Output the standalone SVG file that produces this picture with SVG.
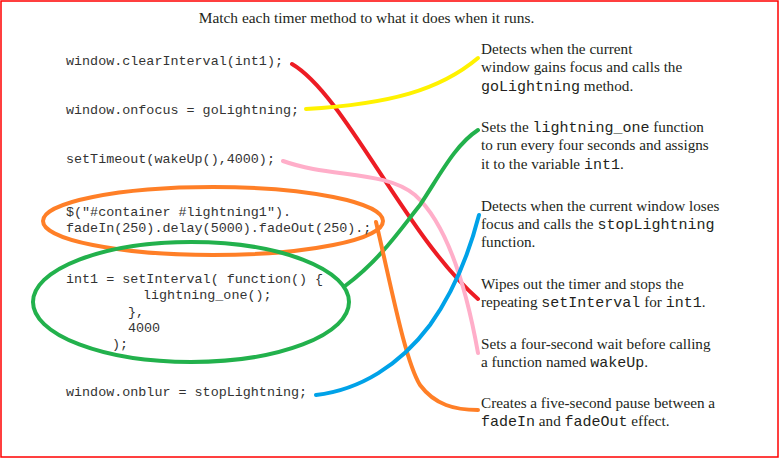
<svg xmlns="http://www.w3.org/2000/svg" width="782" height="463" viewBox="0 0 782 463">
<style>
.code{font-family:"Liberation Mono","Courier New",monospace;font-size:13.4px;fill:#333}
.desc{font-family:"Liberation Serif","Times New Roman",serif;font-size:15.2px;fill:#231f20}
.m{font-family:"Liberation Mono","Courier New",monospace;font-size:15px}
.title{font-family:"Liberation Serif","Times New Roman",serif;font-size:15.4px;fill:#231f20}
.ln{fill:none;stroke-width:4;stroke-linecap:round}
</style>
<rect x="1" y="1" width="777" height="456" fill="#fff" stroke="#f00" stroke-width="1.5"/>
<text class="title" x="366.5" y="23" text-anchor="middle">Match each timer method to what it does when it runs.</text>
<g id="code-clearInterval"><text class="code" x="66" y="65">window.clearInterval(int1);</text></g>
<g id="code-onfocus"><text class="code" x="66" y="114">window.onfocus = goLightning;</text></g>
<g id="code-setTimeout"><text class="code" x="66" y="163">setTimeout(wakeUp(),4000);</text></g>
<g id="code-delay">
<ellipse cx="213" cy="221" rx="170" ry="34" fill="none" stroke="#ff7f27" stroke-width="4"/>
<text class="code" x="66" y="216">$("#container #lightning1").</text>
<text class="code" x="66" y="232">fadeIn(250).delay(5000).fadeOut(250).;</text>
</g>
<g id="code-setInterval">
<ellipse cx="191" cy="302" rx="158" ry="60" fill="none" stroke="#22b14c" stroke-width="4"/>
<text class="code" x="66" y="283">int1 = setInterval( function() {</text>
<text class="code" x="143" y="299">lightning_one();</text>
<text class="code" x="128" y="316">},</text>
<text class="code" x="128" y="332">4000</text>
<text class="code" x="112" y="348">);</text>
</g>
<g id="code-onblur"><text class="code" x="66" y="396">window.onblur = stopLightning;</text></g>
<g id="desc-focus"><text class="desc" x="481" y="54">Detects when the current</text><text class="desc" x="481" y="72">window gains focus and calls the</text><text class="desc" x="481" y="91"><tspan class="m">goLightning</tspan> method.</text></g>
<g id="desc-interval"><text class="desc" x="481" y="132">Sets the <tspan class="m">lightning_one</tspan> function</text><text class="desc" x="481" y="150">to run every four seconds and assigns</text><text class="desc" x="481" y="169">it to the variable <tspan class="m">int1</tspan>.</text></g>
<g id="desc-blur"><text class="desc" x="481" y="211">Detects when the current window loses</text><text class="desc" x="481" y="229">focus and calls the <tspan class="m">stopLightning</tspan></text><text class="desc" x="481" y="247">function.</text></g>
<g id="desc-clear"><text class="desc" x="481" y="289">Wipes out the timer and stops the</text><text class="desc" x="481" y="307">repeating <tspan class="m">setInterval</tspan> for <tspan class="m">int1</tspan>.</text></g>
<g id="desc-timeout"><text class="desc" x="481" y="349">Sets a four-second wait before calling</text><text class="desc" x="481" y="367">a function named <tspan class="m">wakeUp</tspan>.</text></g>
<g id="desc-delay"><text class="desc" x="481" y="408">Creates a five-second pause between a</text><text class="desc" x="481" y="426"><tspan class="m">fadeIn</tspan> and <tspan class="m">fadeOut</tspan> effect.</text></g>
<g id="connectors">
<path class="ln" stroke="#ed1c24" d="M292,64 C345,95 405,235 478,299"/>
<path class="ln" stroke="#fff200" d="M306,109 C390,104 440,90 478,58"/>
<path class="ln" stroke="#ffaec9" d="M283,161 C330,178 385,170 415,195 C445,222 465,280 478,353"/>
<path class="ln" stroke="#22b14c" d="M345,286 C380,260 400,230 420,205 C440,175 455,145 478,130"/>
<path class="ln" stroke="#ff7f27" d="M376,222 C392,290 405,360 420,385 C435,405 455,410 478,410"/>
<path class="ln" stroke="#00a2e8" d="M316,395 C360,390 400,365 430,325 C455,290 470,250 479,215"/>
</g>
</svg>
